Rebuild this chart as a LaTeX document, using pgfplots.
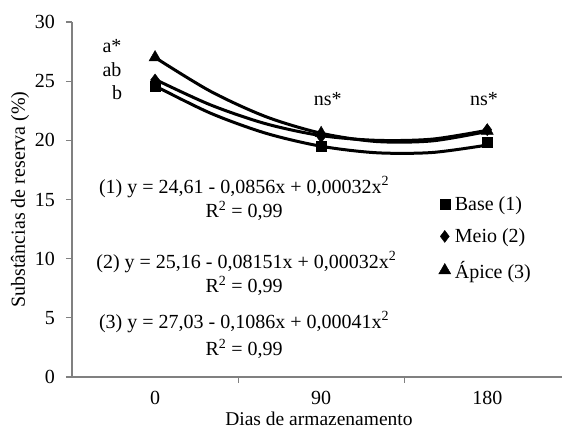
\documentclass[border=0pt]{standalone}
\usepackage{fontspec}
\setmainfont{Liberation Serif}
\usepackage{pgfplots}
\pgfplotsset{compat=1.18}
\newcommand{\fs}{\fontsize{20}{24}\selectfont}
\begin{document}
\begin{tikzpicture}[font=\fs]
\begin{axis}[
  at={(0pt,0pt)}, anchor=south west,
  width=490pt, height=355pt, scale only axis,
  xmin=-0.5, xmax=2.45, ymin=0, ymax=30,
  axis lines*=left,
  axis line style={draw=gray, line width=1.2pt},
  tick style={draw=gray, line width=1.2pt},
  tick align=outside,
  major tick length=6pt, minor tick length=6pt,
  xtick={0,1,2}, xticklabels={0,90,180},
  every major x tick/.append style={draw=none},
  minor xtick={0.5,1.5},
  ytick={0,5,10,15,20,25,30},
  /pgf/number format/assume math mode=true,
  tick label style={font=\fs},
  xticklabel style={anchor=base, inner sep=0pt, yshift=-21.5pt},
  yticklabel style={anchor=east, inner sep=0pt, xshift=-11pt},
  xlabel={Dias de armazenamento},
  ylabel={Substâncias de reserva (\%)},
  every axis x label/.style={at={(axis description cs:0.504,-0.1366)}, anchor=base, inner sep=0pt, font=\fontsize{19.5}{23}\selectfont},
  every axis y label/.style={at={(axis description cs:-0.106,0.5)}, rotate=90, anchor=center, inner sep=0pt, font=\fs},
  legend style={at={(rel axis cs:0.748,0.515)}, anchor=north west, draw=none, fill=none, font=\fs, row sep=13pt, inner sep=0pt,
    nodes={inner xsep=4pt}},
  legend cell align=left,
  legend image code/.code={\draw plot coordinates {(6pt,0pt)};},
]
\addplot[only marks, mark=square*, mark size=5pt, black] coordinates {(0,24.6) (1,19.5) (2,19.8)};
\addlegendentry{Base (1)}
\addplot[only marks, mark=diamond*, mark size=6pt, black] coordinates {(0,25.1) (1,20.3) (2,20.9)};
\addlegendentry{Meio (2)}
\addplot[only marks, mark=triangle*, mark size=7pt, black] coordinates {(0,27.0) (1,20.6) (2,20.8)};
\addlegendentry{Ápice (3)}
\addplot[smooth, black, line width=3pt, forget plot] coordinates {(0,24.6) (0.333,22.3) (0.667,20.6) (1,19.5) (1.333,18.95) (1.667,18.97) (2,19.6)};
\addplot[smooth, black, line width=3pt, forget plot] coordinates {(0,25.15) (0.333,23.0) (0.667,21.4) (1,20.4) (1.333,20.0) (1.667,20.1) (2,20.85)};
\addplot[smooth, black, line width=3pt, forget plot] coordinates {(0,27.0) (0.333,24.15) (0.667,22.0) (1,20.6) (1.333,19.9) (1.667,19.95) (2,20.75)};
\node at (axis cs:0.536,16.06) {(1) y = 24,61 - 0,0856x + 0,00032x\textsuperscript{2}};
\node at (axis cs:0.536,14.03) {R\textsuperscript{2} = 0,99};
\node at (axis cs:0.55,9.72) {(2) y = 25,16 - 0,08151x + 0,00032x\textsuperscript{2}};
\node at (axis cs:0.536,7.69) {R\textsuperscript{2} = 0,99};
\node at (axis cs:0.536,4.65) {(3) y = 27,03 - 0,1086x + 0,00041x\textsuperscript{2}};
\node at (axis cs:0.536,2.37) {R\textsuperscript{2} = 0,99};
\node at (axis cs:-0.259,28.0) {a*};
\node at (axis cs:-0.259,26.0) {ab};
\node at (axis cs:-0.229,24.0) {b};
\node at (axis cs:1.04,23.5) {ns*};
\node at (axis cs:1.98,23.5) {ns*};
\end{axis}
\pgfresetboundingbox
\path[use as bounding box] (-72pt,-53pt) rectangle (490pt,377pt);
\end{tikzpicture}
\end{document}
